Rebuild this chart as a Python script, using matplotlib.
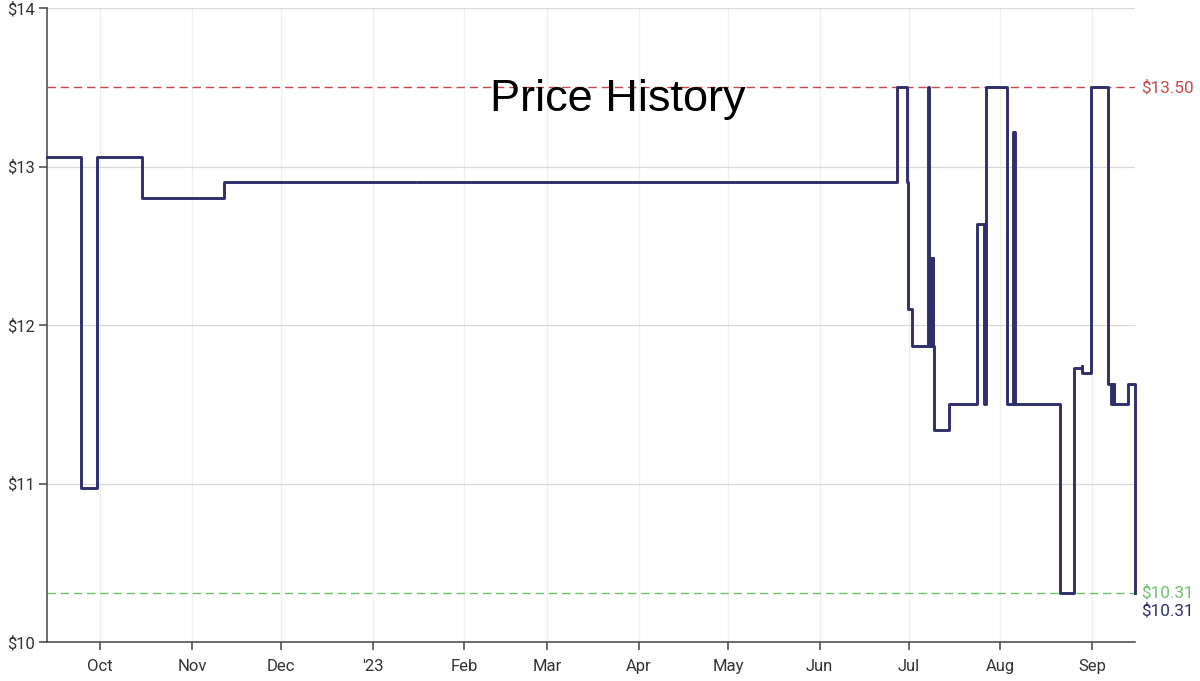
import matplotlib
matplotlib.use('Agg')
import matplotlib.pyplot as plt
import matplotlib.dates as mdates
import numpy as np
import pandas as pd

# price steps (step "post": each price holds until the next date)
dates = [
    '2022-09-13 00:00', '2022-09-24 14:00', '2022-09-30 00:00', '2022-10-15 04:00',
    '2022-11-11 18:00', '2023-01-15 06:00', '2023-01-16 06:00', '2023-06-27 00:00',
    '2023-06-30 14:00', '2023-06-30 22:00', '2023-07-02 08:00', '2023-07-07 16:00',
    '2023-07-07 22:00', '2023-07-08 04:00', '2023-07-08 10:00', '2023-07-08 16:00',
    '2023-07-08 22:00', '2023-07-09 04:00', '2023-07-09 10:00', '2023-07-09 16:00',
    '2023-07-14 18:00', '2023-07-24 06:00', '2023-07-26 14:00', '2023-07-27 06:00',
    '2023-08-03 06:00', '2023-08-05 06:00', '2023-08-05 12:00', '2023-08-05 18:00',
    '2023-08-06 00:00', '2023-08-21 06:00', '2023-08-26 00:00', '2023-08-28 12:00',
    '2023-08-28 18:00', '2023-08-31 16:00', '2023-09-06 10:00', '2023-09-07 12:00',
    '2023-09-07 18:00', '2023-09-08 00:00', '2023-09-08 06:00', '2023-09-08 12:00',
    '2023-09-13 06:00', '2023-09-15 12:00',
]
prices = [
    13.06, 10.97, 13.06, 12.80,
    12.90, np.nan, 12.90, 13.50,
    12.90, 12.10, 11.87, 13.50,
    11.87, 12.42, 11.87, 12.42,
    11.87, 12.42, 11.87, 11.34,
    11.50, 12.64, 11.50, 13.50,
    11.50, 13.22, 11.50, 13.22,
    11.50, 10.31, 11.73, 11.74,
    11.70, 13.50, 11.63, 11.50,
    11.63, 11.50, 11.63, 11.50,
    11.63, 10.31,
]

highest = 13.50
lowest = 10.31
current = 10.31
yticks = [10, 11, 12, 13, 14]

navy = '#2f2f6b'
red = '#c9484a'
green = '#6cc26a'

plt.rcParams['font.family'] = ['Roboto', 'DejaVu Sans']

t = pd.to_datetime(dates)

fig = plt.figure(figsize=(12, 6.81), dpi=100)
ax = fig.add_axes([47 / 1200, 1 - 642 / 681, (1135 - 47) / 1200, (642 - 8) / 681])

ax.step(t, prices, where='post', color=navy, lw=2.1, zorder=3, clip_on=False)

ax.axhline(highest, color=red, lw=1.0, ls=(0, (6, 3.5)), zorder=2)
ax.axhline(lowest, color=green, lw=1.0, ls=(0, (6, 3.5)), zorder=2)

ax.set_xlim(pd.Timestamp('2022-09-13 00:00'), pd.Timestamp('2023-09-15 12:00'))
ax.set_ylim(10, 14)

ax.set_yticks(yticks)
ax.set_yticklabels(['$%d' % v for v in yticks])

ax.xaxis.set_major_locator(mdates.MonthLocator())


def month_fmt(x, pos):
    d = mdates.num2date(x)
    if d.month == 1:
        return d.strftime("'%y")
    return d.strftime('%b')


ax.xaxis.set_major_formatter(plt.FuncFormatter(month_fmt))

ax.grid(axis='y', color='#d8d8d8', lw=0.9)
ax.grid(axis='x', color='#efefef', lw=0.9)
ax.set_axisbelow(True)

for s in ['top', 'right']:
    ax.spines[s].set_visible(False)
for s in ['left', 'bottom']:
    ax.spines[s].set_color('#444444')
    ax.spines[s].set_linewidth(1.1)

ax.tick_params(axis='both', colors='#444444', labelsize=12, length=6, width=1.1,
               labelcolor='#333333')
ax.tick_params(axis='x', pad=6)
ax.tick_params(axis='y', pad=3)

# right hand labels
ax.text(1.006, highest, '$%.2f' % highest, transform=ax.get_yaxis_transform(),
        color=red, fontsize=12.3, va='center', ha='left')
ax.text(1.006, lowest, '$%.2f' % lowest, transform=ax.get_yaxis_transform(),
        color=green, fontsize=12.3, va='center', ha='left')
ax.text(1.006, current - 0.115, '$%.2f' % current, transform=ax.get_yaxis_transform(),
        color=navy, fontsize=12.3, va='center', ha='left')

ax.text(0.525, 13.42, 'Price History', transform=ax.get_yaxis_transform(),
        ha='center', va='center', fontsize=32.5, family=['Liberation Sans', 'DejaVu Sans'],
        color='black')

fig.savefig('out.png', dpi=100)
